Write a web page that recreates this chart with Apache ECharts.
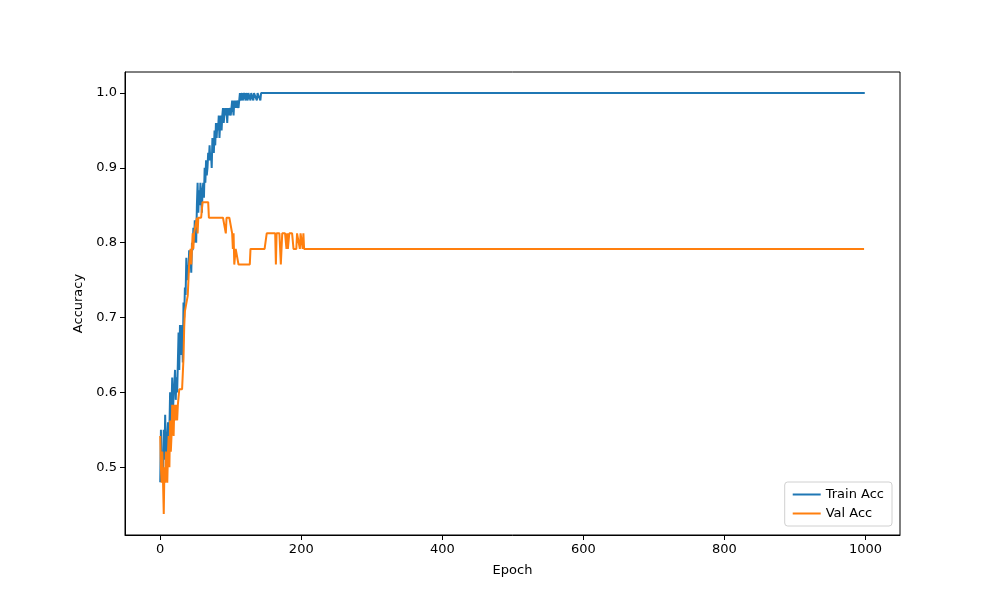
<!DOCTYPE html>
<html>
<head>
<meta charset="utf-8">
<script src="https://cdn.jsdelivr.net/npm/echarts@6/dist/echarts.min.js"></script>
<style>
  html, body { margin: 0; padding: 0; background: #fff; }
  #chart { width: 1000px; height: 600px; }
</style>
</head>
<body>
<div id="chart"></div>
<script>
// train accuracy, epochs 0..149
var trainHead = [
  0.48, 0.55, 0.50, 0.52, 0.49, 0.55, 0.51, 0.57, 0.52, 0.50,
  0.54, 0.56, 0.52, 0.55, 0.60, 0.56, 0.58, 0.62, 0.57, 0.60,
  0.61, 0.63, 0.59, 0.62, 0.60, 0.64, 0.68, 0.63, 0.69, 0.66,
  0.65, 0.69, 0.64, 0.72, 0.70, 0.74, 0.73, 0.78, 0.75, 0.77,
  0.76, 0.79, 0.77, 0.78, 0.76, 0.80, 0.79, 0.82, 0.80, 0.83,
  0.82, 0.80, 0.85, 0.88, 0.84, 0.87, 0.85, 0.88, 0.86, 0.84,
  0.87, 0.88, 0.86, 0.90, 0.88, 0.91, 0.89, 0.90, 0.92, 0.91,
  0.93, 0.91, 0.92, 0.90, 0.94, 0.93, 0.92, 0.95, 0.93, 0.96,
  0.94, 0.96, 0.95, 0.97, 0.94, 0.96, 0.97, 0.95, 0.97, 0.98,
  0.96, 0.97, 0.98, 0.97, 0.98, 0.96, 0.98, 0.97, 0.98, 0.98,
  0.97, 0.98, 0.99, 0.98, 0.97, 0.99, 0.98, 0.99, 0.98, 0.99,
  0.99, 0.98, 0.99, 1.00, 0.99, 0.99, 1.00, 0.99, 0.99, 1.00,
  1.00, 0.99, 1.00, 1.00, 0.99, 1.00, 1.00, 1.00, 0.99, 1.00,
  1.00, 1.00, 0.99, 1.00, 1.00, 1.00, 1.00, 0.99, 1.00, 1.00,
  1.00, 1.00, 0.99, 1.00, 1.00, 1.00, 1.00, 1.00, 1.00, 1.00
];
// after that it stays flat: [value, number of epochs]
var trainTail = [[1.00, 850]];

// val accuracy as [value, number of epochs] runs
var valRuns = [
  [0.5417, 1], [0.5000, 1], [0.4792, 1], [0.5208, 1], [0.4792, 1], [0.4375, 1],
  [0.5000, 1], [0.4792, 1], [0.5208, 1], [0.5000, 1], [0.4792, 1], [0.5208, 1],
  [0.5417, 1], [0.5000, 1], [0.5625, 1], [0.5208, 1], [0.5417, 1], [0.5833, 1],
  [0.5625, 1], [0.5417, 1], [0.5833, 1], [0.5625, 1], [0.5833, 2], [0.5625, 1],
  [0.5833, 2], [0.6042, 6], [0.6458, 1], [0.6875, 1], [0.7083, 4], [0.7292, 1],
  [0.7500, 1], [0.7708, 2], [0.7917, 1], [0.7708, 1], [0.7917, 1], [0.8125, 1],
  [0.7917, 1], [0.8125, 4], [0.8333, 1], [0.8125, 1], [0.8333, 6], [0.8542, 9],
  [0.8333, 24], [0.8125, 1], [0.8333, 8], [0.8125, 1], [0.7917, 1], [0.8125, 1],
  [0.7708, 2], [0.7917, 4], [0.7708, 17], [0.7917, 23], [0.8125, 13], [0.7708, 1],
  [0.8125, 6], [0.7708, 2], [0.8125, 6], [0.7917, 1], [0.8125, 1], [0.7917, 2],
  [0.8125, 6], [0.7917, 5], [0.8125, 4], [0.7917, 1], [0.8125, 3], [0.7917, 1],
  [0.8125, 1], [0.7917, 796]
];

var xTicks = [0, 200, 400, 600, 800, 1000];
var yTicks = [0.5, 0.6, 0.7, 0.8, 0.9, 1.0];

function expand(runs, start) {
    var out = [];
    for (var i = 0; i < runs.length; i++) {
        for (var k = 0; k < runs[i][1]; k++) out.push(runs[i][0]);
    }
    return (start || []).concat(out);
}

var trainAcc = expand(trainTail, trainHead);
var valAcc = expand(valRuns);

function pairs(arr) {
    return arr.map(function (v, i) { return [i, v]; });
}

var font = 'DejaVu Sans';
var myChart = echarts.init(document.getElementById('chart'));
var option = {
    animation: false,
    backgroundColor: '#fff',
    grid: {
        left: 125, right: 100, top: 72, bottom: 65,
        show: true, borderColor: '#000', borderWidth: 1, backgroundColor: 'transparent'
    },
    legend: {
        orient: 'vertical',
        right: 108, bottom: 74,
        padding: [6, 8, 6, 8],
        itemGap: 6,
        backgroundColor: '#fff',
        borderColor: '#d0d0d0',
        borderWidth: 1,
        borderRadius: 3,
        itemWidth: 28,
        itemHeight: 2,
        icon: 'rect',
        textStyle: { fontFamily: font, fontSize: 13, color: '#000' },
        data: ['Train Acc', 'Val Acc']
    },
    xAxis: {
        type: 'value',
        min: -49.95, max: 1048.95,
        name: 'Epoch',
        nameLocation: 'middle',
        nameGap: 29,
        nameTextStyle: { fontFamily: font, fontSize: 13, color: '#000' },
        splitLine: { show: false },
        axisLine: { show: true, onZero: false, lineStyle: { color: '#000', width: 1 } },
        axisTick: { show: true, inside: false, length: 5, customValues: xTicks, lineStyle: { color: '#000' } },
        axisLabel: {
            customValues: xTicks, fontFamily: font, fontSize: 13, color: '#000', margin: 8,
            formatter: function (v) { return String(v); }
        }
    },
    yAxis: {
        type: 'value',
        min: 0.4094, max: 1.0281,
        name: 'Accuracy',
        nameLocation: 'middle',
        nameGap: 38,
        nameRotate: 90,
        nameTextStyle: { fontFamily: font, fontSize: 13, color: '#000' },
        splitLine: { show: false },
        axisLine: { show: true, onZero: false, lineStyle: { color: '#000', width: 1 } },
        axisTick: { show: true, inside: false, length: 5, customValues: yTicks, lineStyle: { color: '#000' } },
        axisLabel: {
            customValues: yTicks, fontFamily: font, fontSize: 13, color: '#000', margin: 8,
            formatter: function (v) { return v.toFixed(1); }
        }
    },
    series: [
        {
            name: 'Train Acc', type: 'line', showSymbol: false,
            color: '#1f77b4',
            lineStyle: { width: 2, color: '#1f77b4' },
            data: pairs(trainAcc)
        },
        {
            name: 'Val Acc', type: 'line', showSymbol: false,
            color: '#ff7f0e',
            lineStyle: { width: 2, color: '#ff7f0e' },
            data: pairs(valAcc)
        }
    ]
};
myChart.setOption(option);
</script>
</body>
</html>
